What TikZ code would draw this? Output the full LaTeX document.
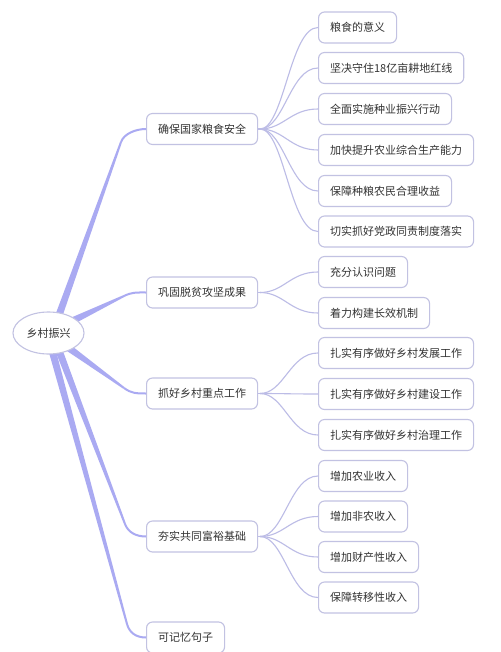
\documentclass[tikz,border=0pt]{standalone}
\usepackage{fontspec}
\newfontfamily\cjk{Noto Sans CJK SC}
\usetikzlibrary{calc,shapes.geometric}
\definecolor{brcol}{HTML}{AAAAF2}
\definecolor{twigcol}{HTML}{BCBCE6}
\definecolor{boxline}{HTML}{C2C2E2}
\definecolor{txt}{HTML}{333333}
\tikzset{
  topic/.style={draw=boxline, line width=1.1pt, rounded corners=6pt, fill=white,
    minimum height=31pt, inner xsep=11.5pt, inner ysep=0pt, anchor=west,
    font=\cjk\fontsize{11pt}{13pt}\selectfont, text=txt},
  rootnode/.style={ellipse, draw=boxline, line width=1.1pt, fill=white,
    minimum width=71pt, minimum height=42pt, inner sep=0pt,
    font=\cjk\fontsize{11pt}{13pt}\selectfont, text=txt},
  thinline/.style={draw=twigcol, line width=1.1pt},
  brcurve/.style={draw=brcol, line width=2pt},
  brfill/.style={fill=brcol},
}
% #1 start, #2 corner, #3 end node
\newcommand\mybranch[3]{%
  \fill[brfill] ($(#1)!3.6pt!90:(#2)$) -- ($(#2)!1pt!-90:(#1)$) -- ($(#2)!1pt!90:(#1)$) -- ($(#1)!3.6pt!-90:(#2)$) -- cycle;
  \draw[brcurve] (#2) .. controls ($(#2)!-9pt!(#1)$) and ($(#3.west)+(-10pt,0)$) .. (#3.west);
}
\newcommand\mytwig[2]{%
  \draw[thinline] (#1) .. controls ($(#1)+(24pt,0)$) and ($(#2.west)+(-28pt,0)$) .. (#2.west);
}
\begin{document}
\begin{tikzpicture}[x=1pt,y=-1pt]
\useasboundingbox[fill=white] (0,0) rectangle (500,652);
% level 1 nodes
\node[topic] (a) at (146,129) {确保国家粮食安全};
\node[topic] (b) at (146,292.5) {巩固脱贫攻坚成果};
\node[topic] (c) at (146,393.5) {抓好乡村重点工作};
\node[topic] (d) at (146,536.5) {夯实共同富裕基础};
\node[topic] (e) at (146,637.5) {可记忆句子};
% level 2 nodes
\node[topic] (a1) at (318,27.5) {粮食的意义};
\node[topic] (a2) at (318,68) {坚决守住18亿亩耕地红线};
\node[topic] (a3) at (318,109) {全面实施种业振兴行动};
\node[topic] (a4) at (318,150) {加快提升农业综合生产能力};
\node[topic] (a5) at (318,191) {保障种粮农民合理收益};
\node[topic] (a6) at (318,231.5) {切实抓好党政同责制度落实};
\node[topic] (b1) at (318,272) {充分认识问题};
\node[topic] (b2) at (318,313) {着力构建长效机制};
\node[topic] (c1) at (318,353) {扎实有序做好乡村发展工作};
\node[topic] (c2) at (318,394) {扎实有序做好乡村建设工作};
\node[topic] (c3) at (318,435) {扎实有序做好乡村治理工作};
\node[topic] (d1) at (318,476) {增加农业收入};
\node[topic] (d2) at (318,516.5) {增加非农收入};
\node[topic] (d3) at (318,557) {增加财产性收入};
\node[topic] (d4) at (318,597.5) {保障转移性收入};
% fan origins
\coordinate (ao) at (260,129);
\coordinate (bo) at (260,292.5);
\coordinate (co) at (260,393.5);
\coordinate (do) at (260,536.5);
\foreach \n in {1,...,6} {\mytwig{ao}{a\n}}
\foreach \n in {1,2} {\mytwig{bo}{b\n}}
\foreach \n in {1,2,3} {\mytwig{co}{c\n}}
\foreach \n in {1,...,4} {\mytwig{do}{d\n}}
\draw[thinline] (a.east) -- (ao);
\draw[thinline] (b.east) -- (bo);
\draw[thinline] (c.east) -- (co);
\draw[thinline] (d.east) -- (do);
% root branches
\coordinate (sa) at (58,318);
\coordinate (pa) at (121,142);
\coordinate (sb) at (70,322);
\coordinate (pb) at (124,296);
\coordinate (sc) at (66,346);
\coordinate (pc) at (124,388);
\coordinate (sd) at (58,348);
\coordinate (pd) at (125,524);
\coordinate (se) at (52,350);
\coordinate (pe) at (127,624);
\mybranch{sa}{pa}{a}
\mybranch{sb}{pb}{b}
\mybranch{sc}{pc}{c}
\mybranch{sd}{pd}{d}
\mybranch{se}{pe}{e}
\node[rootnode] (r) at (48.5,333) {乡村振兴};
\end{tikzpicture}
\end{document}
